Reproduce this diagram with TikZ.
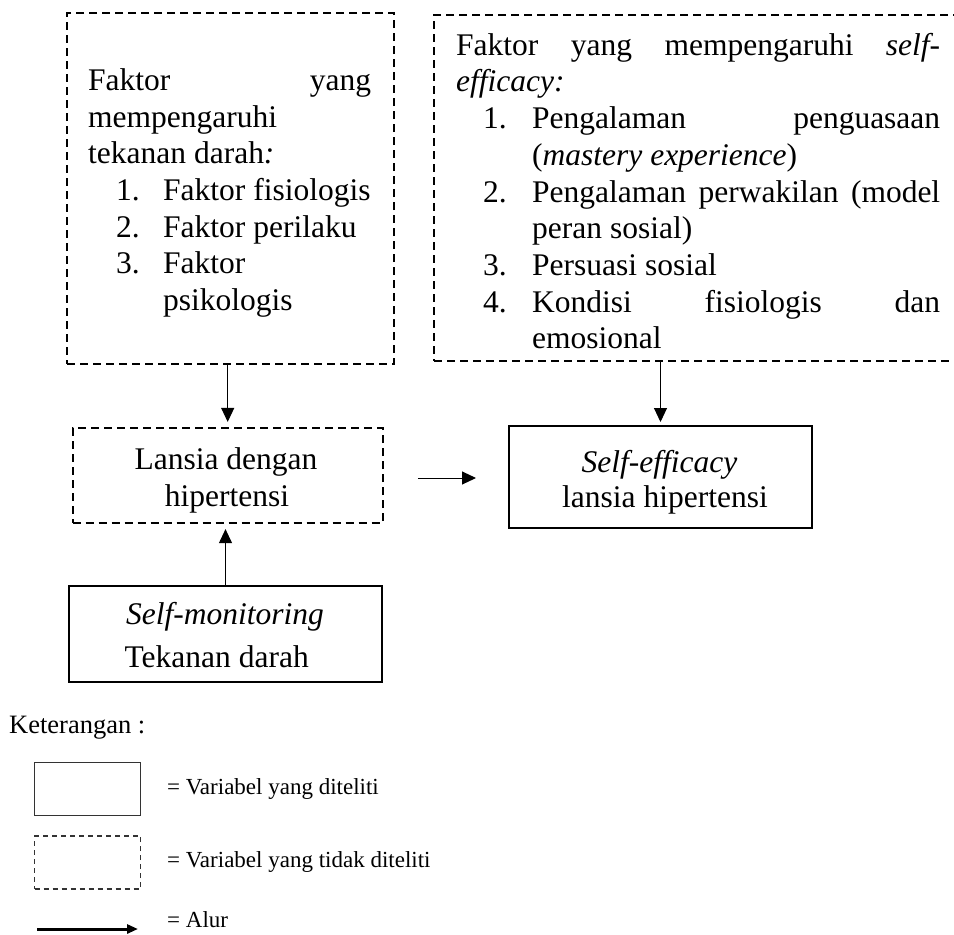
\documentclass[tikz,border=0pt]{standalone}
\usepackage{fontspec}
\setmainfont{Liberation Serif}
\usetikzlibrary{arrows.meta}
\begin{document}
\begin{tikzpicture}[x=1pt,y=-1pt,
  txt/.style={inner sep=0pt, anchor=base west, font=\fontsize{31.5}{36.7}\selectfont},
  ctxt/.style={inner sep=0pt, anchor=base, font=\fontsize{31.5}{36.7}\selectfont},
  legtxt/.style={inner sep=0pt, anchor=base west, font=\fontsize{23}{27}\selectfont},
  dashbox/.style={draw, line width=2.2pt, dash pattern=on 8pt off 5pt, inner sep=0pt},
  solidbox/.style={draw, line width=2pt, inner sep=0pt},
  arr/.style={-{Triangle[width=13pt,length=14pt]}, line width=1pt},
  legsolid/.style={draw=black!80, line width=1.5pt, inner sep=0pt, minimum width=106pt, minimum height=53pt},
  legdash/.style={draw=black!80, line width=1.5pt, dash pattern=on 5pt off 4pt, inner sep=0pt, minimum width=106pt, minimum height=53pt},
  legarr/.style={-{Triangle[width=9pt,length=11pt]}, line width=3pt}
]
\clip (0,0) rectangle (954,935);
\fill[white] (0,0) rectangle (954,935);

% boxes
\node[dashbox, minimum width=327pt, minimum height=351pt] (A) at (230.5,188.5) {};
\node[dashbox, minimum width=526pt, minimum height=346pt] (B) at (697,188) {};
\node[dashbox, minimum width=310pt, minimum height=95pt] (L) at (227.7,475.5) {};
\node[solidbox, minimum width=303pt, minimum height=102pt] (S) at (660.5,477) {};
\node[solidbox, minimum width=313pt, minimum height=96pt] (M) at (225.5,634) {};

% left top text
\node[txt] (a1) at (88,90) {\makebox[283pt][s]{Faktor yang}};
\node[txt] (a2) at (88,127) {mempengaruhi};
\node[txt] (a3) at (88,163) {tekanan darah\textit{:}};
\node[txt] (a4n) at (116,200) {1.};
\node[txt] (a4) at (163,200) {Faktor fisiologis};
\node[txt] (a5n) at (116,237) {2.};
\node[txt] (a5) at (163,237) {Faktor perilaku};
\node[txt] (a6n) at (116,273) {3.};
\node[txt] (a6) at (163,273) {Faktor};
\node[txt] (a7) at (163,310) {psikologis};

% right top text
\node[txt] (b1) at (456,55) {\makebox[484pt][s]{Faktor yang mempengaruhi \textit{self-}}};
\node[txt] (b2) at (456,91.5) {\textit{efficacy:}};
\node[txt] (b3n) at (483,128) {1.};
\node[txt] (b3) at (532,128) {\makebox[408pt][s]{Pengalaman penguasaan}};
\node[txt] (b4) at (532,165) {(\textit{mastery experience})};
\node[txt] (b5n) at (483,202) {2.};
\node[txt] (b5) at (532,202) {\makebox[408pt][s]{Pengalaman perwakilan (model}};
\node[txt] (b6) at (532,238) {peran sosial)};
\node[txt] (b7n) at (483,275) {3.};
\node[txt] (b7) at (532,275) {Persuasi sosial};
\node[txt] (b8n) at (483,312) {4.};
\node[txt] (b8) at (532,312) {\makebox[408pt][s]{Kondisi fisiologis dan}};
\node[txt] (b9) at (532,348.5) {emosional};

% middle texts
\node[ctxt] (l1) at (226,469) {Lansia dengan};
\node[ctxt] (l2) at (227,506) {hipertensi};
\node[ctxt] (s1) at (659.5,472) {\textit{Self-efficacy}};
\node[ctxt] (s2) at (665,507) {lansia hipertensi};
\node[ctxt] (m1) at (225,624) {\textit{Self-monitoring}};
\node[ctxt] (m2) at (216.7,667) {Tekanan darah};

% connectors
\draw[arr, shorten >=5pt] (A.south -| L.north) -- (L.north);
\draw[arr, shorten >=3pt] (B.south -| S.north) -- (S.north);
\draw[arr, shorten <=34pt, shorten >=32pt] (L.east |- 0,478) -- (S.west |- 0,478);
\draw[arr, shorten >=5pt] (M.north) -- (M.north |- L.south);

% legend
\node[inner sep=0pt, anchor=base west, font=\fontsize{26.5}{30}\selectfont] (k) at (9,733) {Keterangan :};
\node[legsolid] (r1) at (87.5,789) {};
\node[legtxt] (t1) at (167,794) {= Variabel yang diteliti};
\node[legdash] (r2) at (87.5,862.5) {};
\node[legtxt] (t2) at (167,867) {= Variabel yang tidak diteliti};
\coordinate (p1) at (37,929);
\coordinate (p2) at (138,929);
\draw[legarr] (p1) -- (p2);
\node[legtxt] (t3) at (167,927) {= Alur};
\end{tikzpicture}
\end{document}
